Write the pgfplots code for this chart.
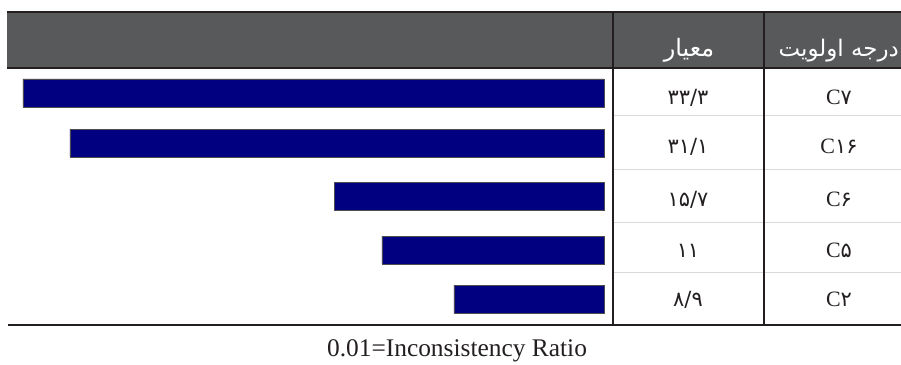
\documentclass[border=0pt]{standalone}
\usepackage{fontspec}
\setmainfont{Liberation Serif}
\newfontfamily\arabicfont[Script=Arabic]{DejaVu Sans}
\usepackage{pgfplots}
\pgfplotsset{compat=1.18}
\TeXXeTstate=1
\definecolor{hdr}{HTML}{58595B}
\definecolor{barc}{HTML}{000080}
\definecolor{ln}{HTML}{231F20}
\newcommand{\fa}[1]{{\arabicfont\fontsize{21}{24}\selectfont #1}}
\begin{document}
\begin{tikzpicture}
\useasboundingbox (0,0) rectangle (901bp,365bp);
\begin{axis}[at={(0,0)}, anchor=south west, scale only axis,
  width=901bp, height=365bp, hide axis,
  x dir=reverse, xmin=-17.02, xmax=34.61,
  y dir=reverse, ymin=0, ymax=365,
  xbar, bar width=28, clip=false]
\addplot[fill=barc, draw=ln!80, line width=0.4bp]
  coordinates {(33.3,93) (30.6,143) (15.47,196) (12.72,250) (8.6,299)};
\end{axis}
\begin{scope}[x=1bp,y=-1bp,yshift=365bp]
  \fill[hdr] (7,12) rectangle (901,68);
  \draw[ln, line width=2bp] (7,12) -- (901,12);
  \draw[ln, line width=2.2bp] (7,68) -- (901,68);
  \foreach \yy in {115,169,222,272} \draw[gray!30, line width=0.5bp] (613,\yy) -- (901,\yy);
  \draw[ln, line width=1.6bp] (613,12) -- (613,325);
  \draw[ln, line width=1.6bp] (764,12) -- (764,325);
  \draw[ln, line width=2.5bp] (8,325) -- (901,325);
  % header text
  \node[anchor=base, text=white, font=\arabicfont\fontsize{24}{28}\selectfont, inner sep=0] at (689,57) {\beginR معیار\endR};
  \node[anchor=base east, text=white, font=\arabicfont\fontsize{23}{27}\selectfont, inner sep=0] at (899,57) {\beginR درجه اولویت\endR};
  % values
  \begin{scope}[every node/.style={anchor=base, text=ln, inner sep=0}]
  \node at (688,105) {\fa{۳۳/۳}};
  \node at (688,154) {\fa{۳۱/۱}};
  \node at (688,207) {\fa{۱۵/۷}};
  \node at (688,258) {\fa{۱۱}};
  \node at (688,307) {\fa{۸/۹}};
  \node at (839,105) {\fontsize{22}{26}\selectfont C\fa{۷}};
  \node at (839,154) {\fontsize{22}{26}\selectfont C\fa{۱۶}};
  \node at (839,207) {\fontsize{22}{26}\selectfont C\fa{۶}};
  \node at (839,258) {\fontsize{22}{26}\selectfont C\fa{۵}};
  \node at (839,307) {\fontsize{22}{26}\selectfont C\fa{۲}};
  \node at (457,357) {\fontsize{25.5}{30}\selectfont 0.01=Inconsistency Ratio};
  \end{scope}
\end{scope}
\end{tikzpicture}
\end{document}
